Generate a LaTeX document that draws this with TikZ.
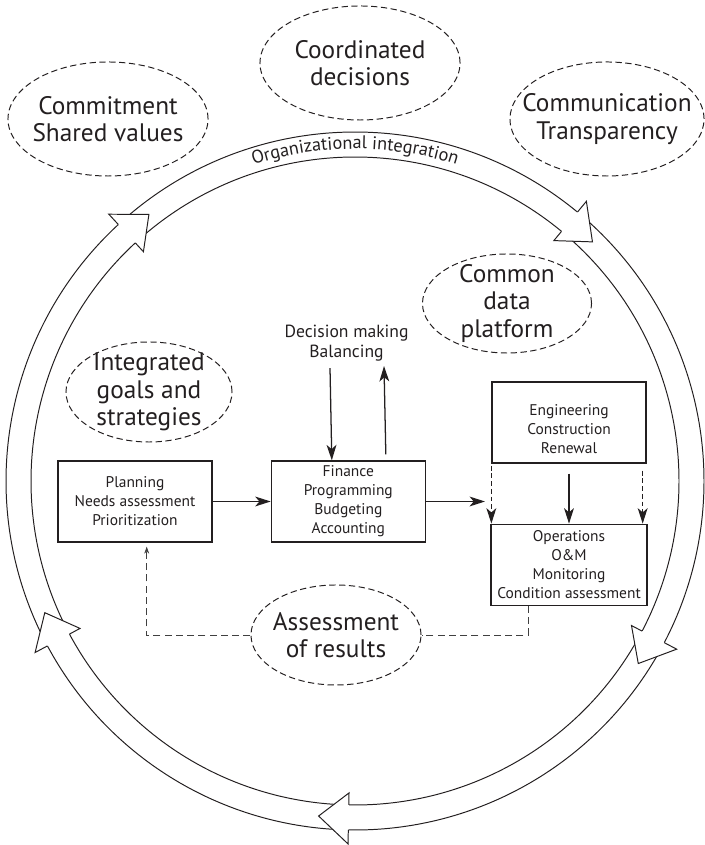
\documentclass[tikz,border=0pt]{standalone}
\usepackage{fontspec}
\setmainfont{PT Sans}
\usepackage{xcolor}
\usetikzlibrary{arrows.meta,positioning,calc,shapes.geometric,decorations.text}
\definecolor{ink}{RGB}{35,31,32}

\begin{document}
\begin{tikzpicture}[x=0.025cm,y=0.025cm,color=ink,
  box/.style={rectangle,draw,line width=0.9pt,minimum width=3.85cm,minimum height=2.025cm,
              inner sep=2pt,align=center,font=\fontsize{11}{13.5}\selectfont},
  boxtext/.style={align=center,font=\fontsize{11}{13.5}\selectfont},
  bubble/.style={ellipse,draw,line width=0.7pt,dash pattern=on 4.5pt off 2.5pt,inner sep=0pt},
  idea/.style={align=center,font=\fontsize{18}{19.5}\selectfont},
  flow/.style={draw,line width=0.9pt,-{Stealth[length=11pt,width=7pt,inset=3pt]}},
  dflow/.style={flow,dash pattern=on 3.5pt off 2pt},
  back/.style={draw,line width=0.6pt,black!75,dash pattern=on 5pt off 3pt},
  ring/.style={draw,line width=0.7pt}]
\useasboundingbox (0,0) rectangle (704,845);
\coordinate (c) at (355,364);

% ring of five open arrows, bodies first and heads on top
\foreach \s/\e in {131.7/50.4, 49.4/-27.6, -28.6/-91.1, -92.1/-151.8, -152.8/-227.3}{
  \draw[ring] ($(c)+(\s:349)$) arc[start angle=\s,end angle=\e,radius=349];
  \draw[ring] ($(c)+(\s:324)$) arc[start angle=\s,end angle=\e,radius=324];
}
\foreach \b/\t in {132.7/127.7, 50.4/45.2, -27.6/-32.8, -91.1/-96.2, -151.8/-157}{
  \filldraw[ring,fill=white] ($(c)+(\b:349)$) -- ($(c)+(\b:363)$) -- ($(c)+(\t:337)$)
    -- ($(c)+(\b:312)$) -- ($(c)+(\b:324)$);
}
\path[decorate,decoration={text along path,text align=center,text color=ink,
  text={|\fontsize{13}{14}\selectfont|Organizational integration}}]
  ($(c)+(150:332)$) arc[start angle=150,end angle=30,radius=332];

% dashed bubbles
\node[bubble,minimum width=5cm,minimum height=2.85cm] (commit) at (108,726) {};
\node[idea] (commit-t) at (commit) {Commitment\\Shared values};
\node[bubble,minimum width=5cm,minimum height=2.85cm] (coord) at (360,782) {};
\node[idea] (coord-t) at (coord) {Coordinated\\decisions};
\node[bubble,minimum width=4.85cm,minimum height=2.85cm] (commun) at (607,726) {};
\node[idea] (commun-t) at (commun) {Communication\\Transparency};
\node[bubble,minimum width=4.225cm,minimum height=2.475cm] (common) at (507,541.5) {};
\node[idea] (common-t) at (common) {Common\\data\\platform};
\node[bubble,minimum width=4.15cm,minimum height=2.5cm] (integ) at (149,453) {};
\node[idea] (integ-t) at (integ) {Integrated\\goals and\\strategies};
\node[bubble,minimum width=4.25cm,minimum height=2.5cm] (assess) at (336,210) {};
\node[idea] (assess-t) at (assess) {Assessment\\of results};

% process boxes
\node[box] (plan) at (135,343.5) {Planning\\Needs assessment\\Prioritization};
\node[box,right=1.45cm of plan] (fin) {Finance\\Programming\\Budgeting\\Accounting};
\node[box] (eng) at (569,422.5) {};
\node[boxtext] (eng-t) at ($(eng)+(0,-7)$) {Engineering\\Construction\\Renewal};
\node[box,minimum width=3.9cm,below=1.5cm of eng] (ops) {Operations\\O\&M\\Monitoring\\Condition assessment};
\node[align=center,font=\fontsize{12.5}{14.2}\selectfont] (dec) at (346.5,502) {Decision making\\Balancing};
\coordinate[right=1.475cm of fin.east] (feed);

\path[flow] (plan) -- (fin);
\path[flow] (fin) -- (feed);
\path[flow] ($(dec.south)+(-16.5,-2)$) -- ($(fin.north)+(-16.5,0)$);
\path[flow] ($(fin.north)+(37.5,6)$) -- ($(dec.south)+(37.5,0)$);
\path[dflow] ($(eng.south west)+(0,-2)$) -- ($(ops.north west)+(1,0)$);
\path[flow] ($(ops.north)+(0,50)$) -- (ops.north);
\path[dflow] ($(eng.south east)+(-4,-7)$) -- ($(ops.north east)+(-5,0)$);
% results are fed back to planning
\path[back] ($(ops.south)+(-41,0)$) |- (assess);
\path[back,-{Stealth[length=5pt,width=3.5pt]}] (assess) -| ($(plan.south)+(11.7,-4)$);
\end{tikzpicture}
\end{document}
